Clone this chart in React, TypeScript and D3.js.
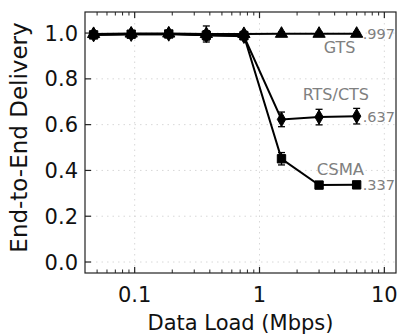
import React, { useEffect, useRef } from "react";
import * as d3 from "d3";

// data loads (Mbps), doubling each step
const loads = [0.046875, 0.09375, 0.1875, 0.375, 0.75, 1.5, 3, 6];

const gtsValues = [0.996, 0.998, 0.998, 0.996, 0.996, 0.997, 0.997, 0.997];
const gtsErrors = [0.012, 0.012, 0.012, 0.035, 0.012, 0.008, 0.008, 0.008];

const rtsValues = [0.993, 0.995, 0.996, 0.99, 0.986, 0.623, 0.633, 0.637];
const rtsErrors = [0.012, 0.012, 0.012, 0.02, 0.012, 0.032, 0.034, 0.034];

const csmaValues = [0.992, 0.995, 0.996, 0.99, 0.988, 0.451, 0.336, 0.337];
const csmaErrors = [0.012, 0.012, 0.012, 0.02, 0.012, 0.027, 0.01, 0.012];

const seriesNames = ["GTS", "RTS/CTS", "CSMA"];
const endLabels = [".997", ".637", ".337"];

const yTicks = [0, 0.2, 0.4, 0.6, 0.8, 1.0];
const xTicks = [0.1, 1, 10];

const App: React.FC = () => {
    const svgRef = useRef<SVGSVGElement | null>(null);

    useEffect(() => {
        const width = 403;
        const height = 335;
        const margin = { top: 12, right: 7, bottom: 62, left: 85 };
        const w = width - margin.left - margin.right;
        const h = height - margin.top - margin.bottom;
        const font = "DejaVu Sans, sans-serif";

        d3.select(svgRef.current).selectAll("*").remove();
        const root = d3.select(svgRef.current).attr("width", width).attr("height", height);
        const svg = root.append("g").attr("transform", `translate(${margin.left},${margin.top})`);

        const x = d3.scaleLog().domain([0.04, 12.4]).range([0, w]);
        const y = d3.scaleLinear().domain([-0.048, 1.092]).range([h, 0]);

        // grid
        svg.selectAll("line.gx")
            .data(xTicks)
            .enter()
            .append("line")
            .attr("x1", (d) => x(d))
            .attr("x2", (d) => x(d))
            .attr("y1", 0)
            .attr("y2", h)
            .attr("stroke", "#d8d8d8")
            .attr("stroke-width", 1)
            .attr("stroke-dasharray", "1.5,4");
        svg.selectAll("line.gy")
            .data(yTicks)
            .enter()
            .append("line")
            .attr("x1", 0)
            .attr("x2", w)
            .attr("y1", (d) => y(d))
            .attr("y2", (d) => y(d))
            .attr("stroke", "#d8d8d8")
            .attr("stroke-width", 1)
            .attr("stroke-dasharray", "1.5,4");

        // minor x ticks
        const minor: number[] = [];
        [0.01, 0.1, 1, 10].forEach((base) => {
            for (let k = 2; k <= 9; k++) {
                const v = base * k;
                if (v > 0.04 && v < 12.4) minor.push(v);
            }
        });

        const tickGroup = svg.append("g").attr("stroke", "#222");
        [0, h].forEach((edge) => {
            const dir = edge === 0 ? 1 : -1;
            xTicks.forEach((t) => {
                tickGroup.append("line")
                    .attr("x1", x(t)).attr("x2", x(t))
                    .attr("y1", edge).attr("y2", edge + dir * 6)
                    .attr("stroke-width", 1.2);
            });
            minor.forEach((t) => {
                tickGroup.append("line")
                    .attr("x1", x(t)).attr("x2", x(t))
                    .attr("y1", edge).attr("y2", edge + dir * 3.5)
                    .attr("stroke-width", 1);
            });
        });
        yTicks.forEach((t) => {
            tickGroup.append("line")
                .attr("x1", 0).attr("x2", 6)
                .attr("y1", y(t)).attr("y2", y(t))
                .attr("stroke-width", 1.2);
        });

        // frame
        svg.append("rect")
            .attr("width", w)
            .attr("height", h)
            .attr("fill", "none")
            .attr("stroke", "#222")
            .attr("stroke-width", 1.2);

        // tick labels
        svg.selectAll("text.yl")
            .data(yTicks)
            .enter()
            .append("text")
            .attr("x", -7)
            .attr("y", (d) => y(d))
            .attr("dy", "0.36em")
            .attr("text-anchor", "end")
            .attr("font-family", font)
            .attr("font-size", 21)
            .attr("fill", "#111")
            .text((d) => d.toFixed(1));
        svg.selectAll("text.xl")
            .data(xTicks)
            .enter()
            .append("text")
            .attr("x", (d) => x(d))
            .attr("y", h + 29)
            .attr("text-anchor", "middle")
            .attr("font-family", font)
            .attr("font-size", 21)
            .attr("fill", "#111")
            .text((d) => String(d));

        // axis titles
        svg.append("text")
            .attr("x", w / 2)
            .attr("y", h + 57)
            .attr("text-anchor", "middle")
            .attr("font-family", font)
            .attr("font-size", 21)
            .attr("fill", "#111")
            .text("Data Load (Mbps)");
        svg.append("text")
            .attr("transform", `translate(${-58},${125.5}) rotate(-90)`)
            .attr("text-anchor", "middle")
            .attr("font-family", font)
            .attr("font-size", 23)
            .attr("fill", "#111")
            .text("End-to-End Delivery");

        const series = [
            { values: csmaValues, errors: csmaErrors, symbol: d3.symbolSquare, size: 70 },
            { values: rtsValues, errors: rtsErrors, symbol: d3.symbolDiamond, size: 60 },
            { values: gtsValues, errors: gtsErrors, symbol: d3.symbolTriangle, size: 65 },
        ];

        const line = d3
            .line<number>()
            .x((_, i) => x(loads[i]))
            .y((d) => y(d));

        series.forEach((s) => {
            const g = svg.append("g");
            g.append("path")
                .attr("d", line(s.values))
                .attr("fill", "none")
                .attr("stroke", "#000")
                .attr("stroke-width", 2);
            s.values.forEach((v, i) => {
                const cx = x(loads[i]);
                const lo = y(v - s.errors[i]);
                const hi = y(v + s.errors[i]);
                g.append("line")
                    .attr("x1", cx).attr("x2", cx)
                    .attr("y1", lo).attr("y2", hi)
                    .attr("stroke", "#000").attr("stroke-width", 1.3);
                [lo, hi].forEach((yy) => {
                    g.append("line")
                        .attr("x1", cx - 3.5).attr("x2", cx + 3.5)
                        .attr("y1", yy).attr("y2", yy)
                        .attr("stroke", "#000").attr("stroke-width", 1.3);
                });
                g.append("path")
                    .attr("d", d3.symbol().type(s.symbol).size(s.size)())
                    .attr("transform", `translate(${cx},${y(v)})`)
                    .attr("fill", "#000")
                    .attr("stroke", "#000")
                    .attr("stroke-width", 1);
            });
        });

        // series annotations
        const last = loads[loads.length - 1];
        const lastVals = [gtsValues[7], rtsValues[7], csmaValues[7]];
        const nameLayout = [
            { dx: -33, dy: 19, size: 16 },
            { dx: -54, dy: -16, size: 16 },
            { dx: -40, dy: -10, size: 16.5 },
        ];
        seriesNames.forEach((name, i) => {
            svg.append("text")
                .attr("x", x(last) + 6)
                .attr("y", y(lastVals[i]) + 5.5)
                .attr("font-family", font)
                .attr("font-size", 14.5)
                .attr("fill", "#808080")
                .text(endLabels[i]);
            svg.append("text")
                .attr("x", x(last) + nameLayout[i].dx)
                .attr("y", y(lastVals[i]) + nameLayout[i].dy)
                .attr("font-family", font)
                .attr("font-size", nameLayout[i].size)
                .attr("fill", "#808080")
                .text(name);
        });
    }, []);

    return <svg ref={svgRef} style={{ position: "absolute", left: 0, top: 0 }} />;
};

export default App;
